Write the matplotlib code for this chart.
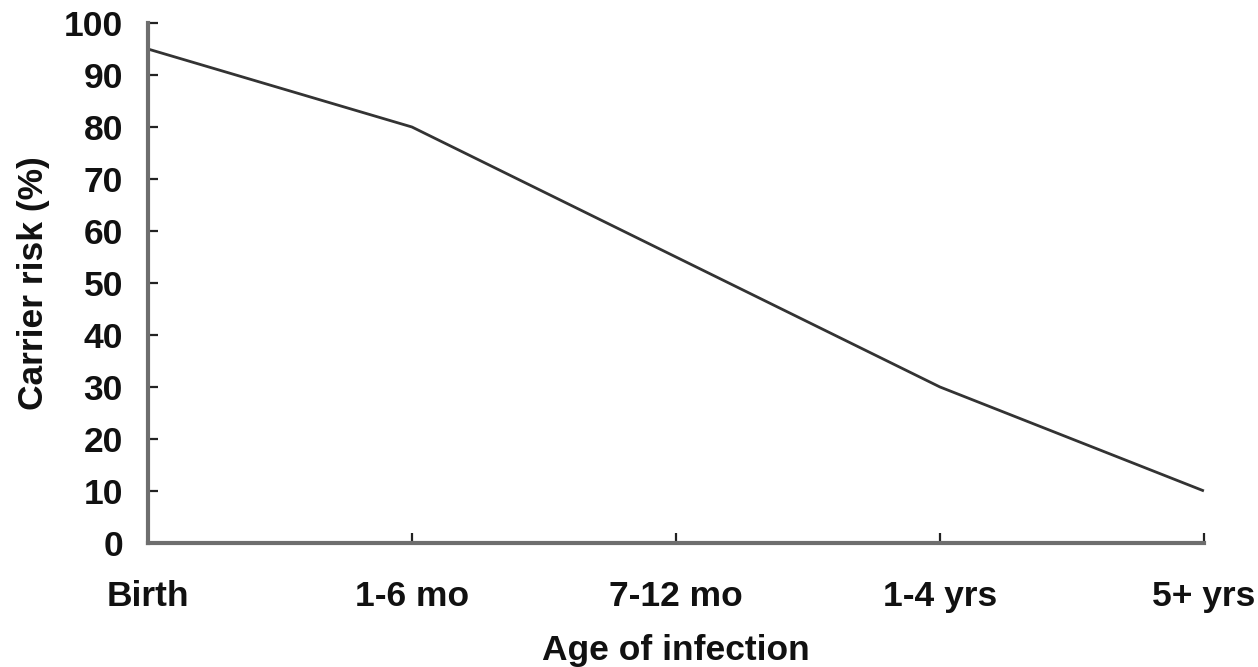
import matplotlib.pyplot as plt

# Carrier risk by age of infection
ages = ["Birth", "1-6 mo", "7-12 mo", "1-4 yrs", "5+ yrs"]
risk = [95, 80, 55, 30, 10]
yticks = list(range(0, 101, 10))

plt.rcParams['font.family'] = ['Liberation Sans', 'DejaVu Sans']
plt.rcParams['font.weight'] = 'bold'

fig = plt.figure(figsize=(12.58, 6.67), dpi=100)
ax = fig.add_axes([0.1176, 0.186, 0.957 - 0.1176, 0.9655 - 0.186])

x = list(range(len(ages)))
ax.plot(x, risk, color="#333333", lw=2.0, solid_capstyle="butt", clip_on=False)

ax.set_xlim(0, len(ages) - 1)
ax.set_ylim(0, 100)
ax.set_xticks(x)
ax.set_xticklabels(ages)
ax.set_yticks(yticks)

for side in ["top", "right"]:
    ax.spines[side].set_visible(False)
for side in ["left", "bottom"]:
    ax.spines[side].set_color("#6e6e6e")
    ax.spines[side].set_linewidth(3.0)

ax.tick_params(axis="both", direction="in", length=7, width=1.6, color="#222222",
               labelsize=25.5, labelcolor="#111111")
ax.tick_params(axis="y", pad=18)
ax.tick_params(axis="x", pad=27)

ax.set_xlabel("Age of infection", fontsize=25.5, fontweight="bold", labelpad=15, color="#111111")
ax.set_ylabel("Carrier risk (%)", fontsize=25.5, fontweight="bold", labelpad=10, color="#111111")

fig.savefig("out.png", dpi=100)
